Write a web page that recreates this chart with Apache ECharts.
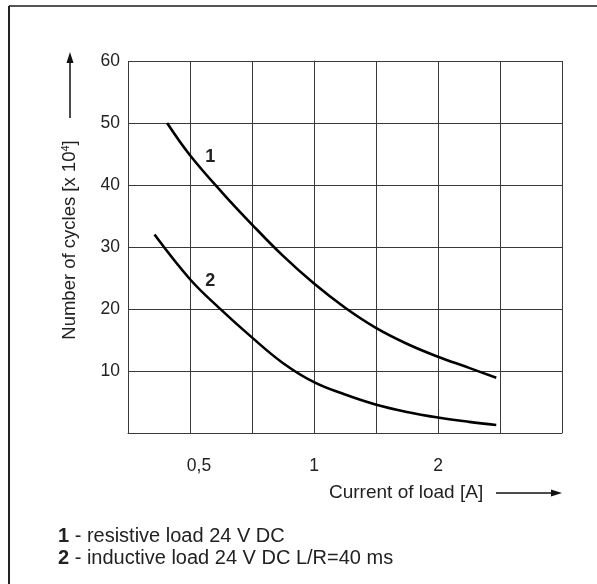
<!DOCTYPE html>
<html>
<head>
<meta charset="utf-8">
<script src="https://cdn.jsdelivr.net/npm/echarts@6/dist/echarts.min.js"></script>
<style>
    html, body { margin: 0; padding: 0; background: #fff; }
    #chart { width: 597px; height: 584px; }
</style>
</head>
<body>
<div id="chart"></div>
<script>
    // curve 1 - resistive load 24 V DC
    const current1 = [0.44, 0.5, 0.6, 0.71, 0.84, 1, 1.19, 1.41, 1.68, 2, 2.38, 2.77];
    const cycles1  = [50, 44.8, 38.7, 33.5, 28.6, 24.1, 20.2, 17.0, 14.4, 12.3, 10.5, 8.9];
    // curve 2 - inductive load 24 V DC L/R=40 ms
    const current2 = [0.41, 0.5, 0.59, 0.71, 0.84, 1, 1.19, 1.41, 1.68, 2, 2.38, 2.77];
    const cycles2  = [32, 24.8, 20.1, 15.3, 11.3, 8.2, 6.2, 4.6, 3.4, 2.5, 1.8, 1.3];

    const xTickValues = [0.5, 1, 2];
    const xTickLabels = ['0,5', '1', '2'];
    const yTickValues = [10, 20, 30, 40, 50, 60];

    const curveNames = ['1', '2'];
    const curveLabelCurrent = [0.56, 0.56];
    const curveLabelCycles = [44.5, 24.5];

    const legendLines = ['resistive load 24 V DC', 'inductive load 24 V DC L/R=40 ms'];

    const FONT = 'Liberation Sans, Arial, sans-serif';
    const TXT = '#222';
    const GRIDC = '#3a3a3a';

    // x axis is logarithmic (base 2), grid every half step
    function toPairs(xs, ys) {
        return xs.map((x, i) => [Math.log2(x), ys[i]]);
    }

    let myChart = echarts.init(document.getElementById('chart'));

    let option = {
        animation: false,
        backgroundColor: '#fff',
        grid: { left: 128, top: 61, width: 434, height: 372 },
        xAxis: {
            type: 'value',
            min: -1.5,
            max: 2,
            interval: 0.5,
            axisLine: { show: true, lineStyle: { color: GRIDC, width: 1 } },
            axisTick: { show: false },
            splitLine: { show: true, lineStyle: { color: GRIDC, width: 1 } },
            axisLabel: {
                margin: 24,
                fontFamily: FONT,
                fontSize: 17.5,
                color: TXT,
                formatter: function (v) {
                    let c = Math.pow(2, v);
                    for (let i = 0; i < xTickValues.length; i++) {
                        if (Math.abs(xTickValues[i] - c) < 1e-6) {
                            return i === 0 ? '{a|' + xTickLabels[i] + '}' : xTickLabels[i];
                        }
                    }
                    return '';
                },
                rich: { a: { fontFamily: FONT, fontSize: 17.5, color: TXT, padding: [0, 0, 0, 18] } }
            }
        },
        yAxis: {
            type: 'value',
            min: 0,
            max: 60,
            interval: 10,
            axisLine: { show: true, lineStyle: { color: GRIDC, width: 1 } },
            axisTick: { show: false },
            splitLine: { show: true, lineStyle: { color: GRIDC, width: 1 } },
            axisLabel: {
                margin: 8,
                fontFamily: FONT,
                fontSize: 17.5,
                color: TXT,
                formatter: v => (yTickValues.indexOf(v) >= 0 ? String(v) : '')
            }
        },
        series: [
            {
                name: curveNames[0],
                type: 'line',
                smooth: 0.4,
                symbol: 'none',
                lineStyle: { color: '#000', width: 2.6 },
                data: toPairs(current1, cycles1),
                markPoint: {
                    symbolSize: 0,
                    label: { show: true, fontFamily: FONT, fontSize: 18, fontWeight: 'bold', color: TXT, formatter: curveNames[0] },
                    data: [{ coord: [Math.log2(curveLabelCurrent[0]), curveLabelCycles[0]] }]
                }
            },
            {
                name: curveNames[1],
                type: 'line',
                smooth: 0.4,
                symbol: 'none',
                lineStyle: { color: '#000', width: 2.6 },
                data: toPairs(current2, cycles2),
                markPoint: {
                    symbolSize: 0,
                    label: { show: true, fontFamily: FONT, fontSize: 18, fontWeight: 'bold', color: TXT, formatter: curveNames[1] },
                    data: [{ coord: [Math.log2(curveLabelCurrent[1]), curveLabelCycles[1]] }]
                }
            }
        ],
        graphic: [
            // frame (top and left edges)
            { type: 'line', shape: { x1: 9, y1: 6, x2: 597, y2: 6 }, style: { stroke: '#555', lineWidth: 2 } },
            { type: 'line', shape: { x1: 9, y1: 6, x2: 9, y2: 584 }, style: { stroke: '#222', lineWidth: 2 } },
            // y axis name + arrow
            {
                type: 'text', x: 70, y: 240, rotation: Math.PI / 2,
                style: {
                    text: 'Number of cycles [x 10{s|4}]',
                    fontFamily: FONT, fontSize: 18.5, fill: TXT,
                    align: 'center', verticalAlign: 'middle',
                    rich: { s: { fontFamily: FONT, fontSize: 11, fill: TXT, padding: [0, 0, 9, 0] } }
                }
            },
            { type: 'line', shape: { x1: 70, y1: 118, x2: 70, y2: 60 }, style: { stroke: '#111', lineWidth: 1.5 } },
            { type: 'polygon', shape: { points: [[70, 52], [66.5, 63], [73.5, 63]] }, style: { fill: '#111' } },
            // x axis name + arrow
            {
                type: 'text', x: 329, y: 493,
                style: { text: 'Current of load [A]', fontFamily: FONT, fontSize: 19, fill: TXT, align: 'left', verticalAlign: 'middle' }
            },
            { type: 'line', shape: { x1: 496, y1: 493, x2: 553, y2: 493 }, style: { stroke: '#111', lineWidth: 1.5 } },
            { type: 'polygon', shape: { points: [[562, 493], [551, 489.5], [551, 496.5]] }, style: { fill: '#111' } },
            // legend notes
            {
                type: 'text', x: 58, y: 536,
                style: {
                    text: '{b|' + curveNames[0] + '} - ' + legendLines[0],
                    fontFamily: FONT, fontSize: 20, fill: TXT, verticalAlign: 'middle',
                    rich: { b: { fontFamily: FONT, fontSize: 20, fontWeight: 'bold', fill: TXT } }
                }
            },
            {
                type: 'text', x: 58, y: 558,
                style: {
                    text: '{b|' + curveNames[1] + '} - ' + legendLines[1],
                    fontFamily: FONT, fontSize: 20, fill: TXT, verticalAlign: 'middle',
                    rich: { b: { fontFamily: FONT, fontSize: 20, fontWeight: 'bold', fill: TXT } }
                }
            }
        ]
    };

    myChart.setOption(option);
</script>
</body>
</html>
